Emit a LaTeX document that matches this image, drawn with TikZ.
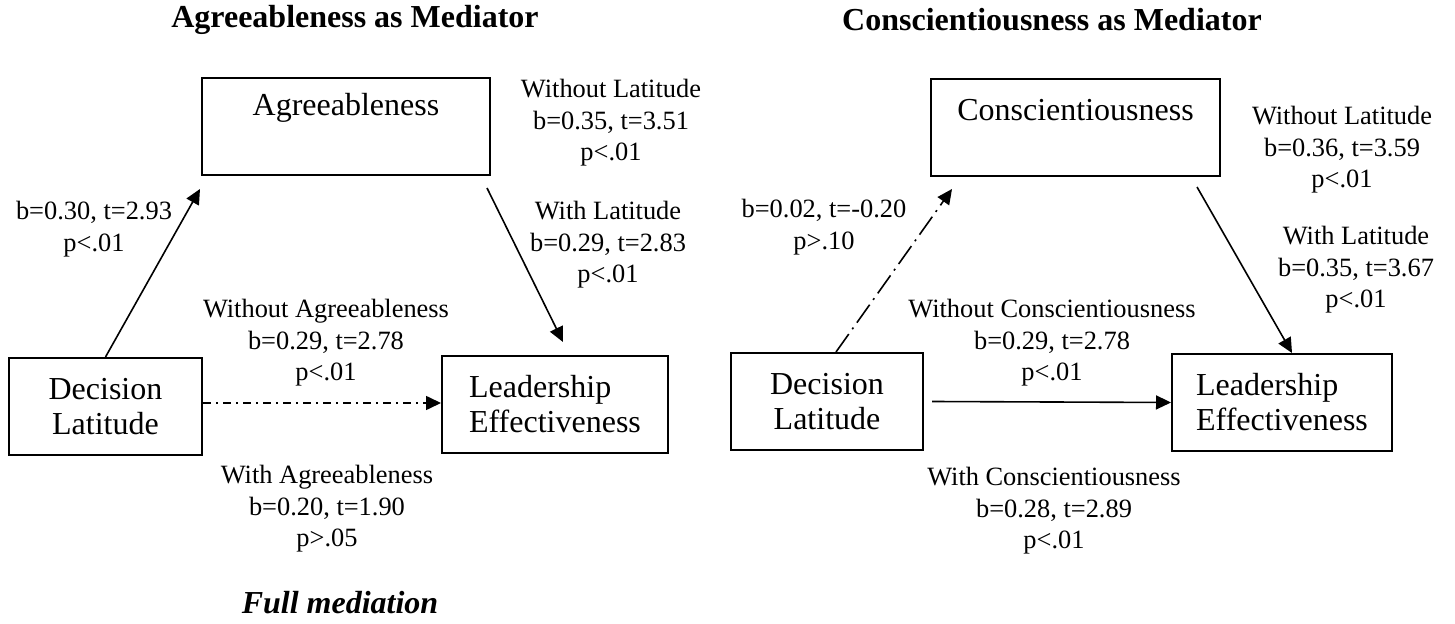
\documentclass[tikz,border=0pt]{standalone}
\usepackage{fontspec}
\setmainfont{Liberation Serif}
\usetikzlibrary{arrows.meta}
\tikzset{>={Triangle[length=7.5pt,width=7pt]}}
\newcommand\boxfnt{\fontsize{16}{17.5}\selectfont}
\newcommand\statfnt{\fontsize{13.2}{15.75}\selectfont}
\tikzset{
    box/.style={draw, line width=1pt, minimum height=48.5pt, inner sep=0pt, font=\boxfnt},
    stat/.style={align=center, inner sep=0pt, font=\statfnt},
    heading/.style={inner sep=0pt, font=\boxfnt\bfseries},
    link/.style={->, line width=0.8pt},
    dashdot/.style={dash pattern=on 4pt off 2.5pt on 1pt off 2.5pt},
    longdashdot/.style={dash pattern=on 11pt off 3pt on 1pt off 3pt}
}

\begin{document}
\begin{tikzpicture}[x=0.5pt, y=-0.5pt]
    \useasboundingbox (0, 0) rectangle (1455, 624);
    % agreeableness
    \node[heading] (titleA) at (355, 20) {Agreeableness as Mediator};
    \node[box, minimum width=144pt, label={[font=\boxfnt, yshift=9.25pt]center:Agreeableness}] (agr) at (346, 126.5) {};
    \node[box, minimum width=96.5pt, align=center] (dl) at (105.5, 406.5) {Decision\\Latitude};
    \node[box, minimum width=113pt, align=left] (le) at (555, 404.5) {Leadership\\Effectiveness};
    \draw[link] (dl.north) -- ([shift={(-1, 13)}]agr.south west);
    \draw[link] ([shift={(-4, 12)}]agr.south east) -- ([shift={(8, -13)}]le.north);
    \draw[link, dashdot] ([shift={(0, -3.5)}]dl.east) -- ([shift={(0, -1.5)}]le.west);
    \node[stat] (sA1) at (94, 229) {b=0.30, t=2.93\\p<.01};
    \node[stat] (sA2) at (611, 123) {Without Latitude\\b=0.35, t=3.51\\p<.01};
    \node[stat] (sA3) at (608, 245) {With Latitude\\b=0.29, t=2.83\\p<.01};
    \node[stat] (sA4) at (326, 343) {Without Agreeableness\\b=0.29, t=2.78\\p<.01};
    \node[stat] (sA5) at (327, 509) {With Agreeableness\\b=0.20, t=1.90\\p>.05};
    \node[heading, font=\boxfnt\bfseries\itshape] (full) at (340, 603) {Full mediation};
    % conscientiousness
    \node[heading] (titleC) at (1052, 20) {Conscientiousness as Mediator};
    \node[box, minimum width=144.5pt, label={[font=\boxfnt, yshift=8.75pt]center:Conscientiousness}] (con) at (1075.5, 127.5) {};
    \node[box, minimum width=96pt, align=center] (dl2) at (827, 401.5) {Decision\\Latitude};
    \node[box, minimum width=110pt, align=left] (le2) at (1282, 402.5) {Leadership\\Effectiveness};
    \draw[link, longdashdot] ([shift={(9, 0)}]dl2.north) -- ([shift={(22, 12)}]con.south west);
    \draw[link] ([shift={(-24, 10)}]con.south east) -- ([shift={(10, 0)}]le2.north);
    \draw[link] ([shift={(8, 0)}]dl2.east) -- (le2.west);
    \node[stat] (sC1) at (824, 227) {b=0.02, t=-0.20\\p>.10};
    \node[stat] (sC2) at (1342, 150) {Without Latitude\\b=0.36, t=3.59\\p<.01};
    \node[stat] (sC3) at (1356, 270) {With Latitude\\b=0.35, t=3.67\\p<.01};
    \node[stat] (sC4) at (1052, 343) {Without Conscientiousness\\b=0.29, t=2.78\\p<.01};
    \node[stat] (sC5) at (1054, 511) {With Conscientiousness\\b=0.28, t=2.89\\p<.01};
\end{tikzpicture}
\end{document}
